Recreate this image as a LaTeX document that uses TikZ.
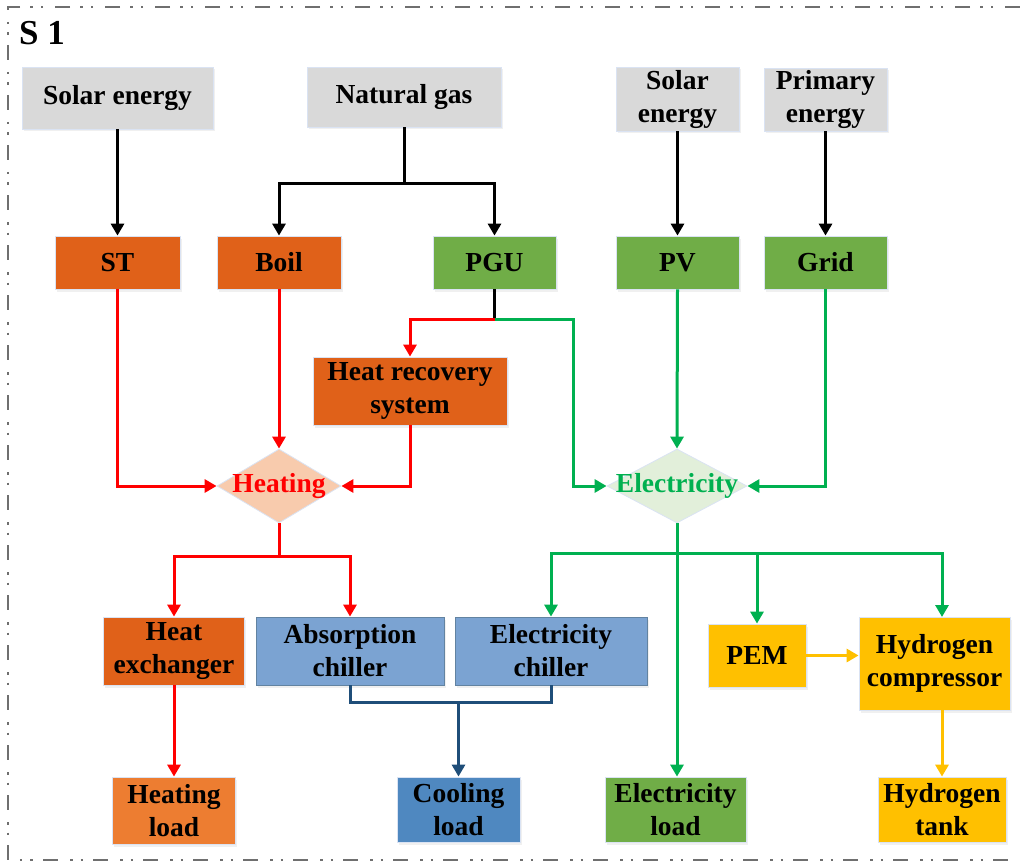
\documentclass[tikz,border=0pt]{standalone}
\usepackage{fontspec}
\setmainfont{Liberation Serif}
\usetikzlibrary{shapes.geometric,arrows.meta,shadows}
\definecolor{gry}{HTML}{D9D9D9}
\definecolor{org}{HTML}{E06119}
\definecolor{hld}{HTML}{ED7D31}
\definecolor{grn}{HTML}{70AD47}
\definecolor{blu}{HTML}{7BA3D2}
\definecolor{cld}{HTML}{4F88C0}
\definecolor{yel}{HTML}{FFC000}
\definecolor{hdia}{HTML}{F8CBAD}
\definecolor{edia}{HTML}{E2EFDA}
\definecolor{rd}{HTML}{FF0000}
\definecolor{gn}{HTML}{00B050}
\definecolor{nv}{HTML}{1F4E79}
\definecolor{edge}{HTML}{DAE3F3}
\definecolor{frame}{HTML}{6F6F6F}
\begin{document}
\begin{tikzpicture}[x=1pt,y=-1pt,
  box/.style={rectangle, inner sep=0pt, align=center, draw=edge, line width=0.8pt,
    font=\fontsize{27.5}{33}\selectfont\bfseries,
    drop shadow={opacity=0.12, shadow xshift=1.5pt, shadow yshift=-2.5pt}},
  dia/.style={diamond, inner sep=0pt, draw=edge, line width=0.8pt},
  dlbl/.style={inner sep=0pt, font=\fontsize{27.5}{33}\selectfont\bfseries},
  conn/.style={line width=3pt},
  arr/.style={conn, -{Triangle[length=12pt,width=13pt]}},
]
\useasboundingbox (0,0) rectangle (1020,864);
% frame
\draw[frame, line width=2.5pt, dash pattern=on 15pt off 12pt on 2.5pt off 8pt on 2.5pt off 10pt]
  (1020,7) -- (8,7) -- (8,860) -- (1020,860);
\node[anchor=north west, inner sep=0pt, font=\fontsize{35}{35}\selectfont\bfseries] (title) at (19,21) {S 1};

% sources
\node[box, fill=gry, minimum width=191pt, minimum height=62pt] (se1) at (117.5,98) {Solar energy};
\node[box, fill=gry, minimum width=194pt, minimum height=60pt] (ng) at (404,97) {Natural gas};
\node[box, fill=gry, minimum width=123pt, minimum height=64pt] (se2) at (677.5,99) {Solar\\energy};
\node[box, fill=gry, minimum width=123pt, minimum height=63pt] (pe) at (825.5,99.5) {Primary\\energy};

% converters
\node[box, fill=org, minimum width=125pt, minimum height=53pt] (st) at (117.5,262.5) {ST};
\node[box, fill=org, minimum width=124pt, minimum height=53pt] (boil) at (279,262.5) {Boil};
\node[box, fill=grn, minimum width=123pt, minimum height=53pt] (pgu) at (494.5,262.5) {PGU};
\node[box, fill=grn, minimum width=123pt, minimum height=53pt] (pv) at (677.5,262.5) {PV};
\node[box, fill=grn, minimum width=123pt, minimum height=53pt] (grid) at (825.5,262.5) {Grid};
\node[box, fill=org, minimum width=194pt, minimum height=68pt] (hrs) at (410,391) {Heat recovery\\system};

% hubs
\node[dia, fill=hdia, minimum width=124pt, minimum height=74pt] (heat) at (279,486) {};
\node[dlbl, text=rd] (heatl) at (heat.center) {Heating};
\node[dia, fill=edia, minimum width=140pt, minimum height=74pt] (elec) at (677,486) {};
\node[dlbl, text=gn] (elecl) at (elec.center) {Electricity};

% second level
\node[box, fill=org, minimum width=141pt, minimum height=68pt] (hx) at (174,651) {Heat\\exchanger};
\node[box, fill=blu, draw=nv!70, minimum width=188pt, minimum height=68pt] (ac) at (350,651) {Absorption\\chiller};
\node[box, fill=blu, draw=nv!70, minimum width=192pt, minimum height=68pt] (ec) at (551,651) {Electricity\\chiller};
\node[box, fill=yel, minimum width=98pt, minimum height=63pt] (pem) at (757,655.5) {PEM};
\node[box, fill=yel, minimum width=151pt, minimum height=93pt] (hc) at (934.5,663.5) {Hydrogen\\compressor};

% loads
\node[box, fill=hld, minimum width=123pt, minimum height=67pt] (hl) at (174,810.5) {Heating\\load};
\node[box, fill=cld, minimum width=123pt, minimum height=65pt] (cl) at (458.5,809.5) {Cooling\\load};
\node[box, fill=grn, minimum width=141pt, minimum height=65pt] (el) at (675.5,809.5) {Electricity\\load};
\node[box, fill=yel, minimum width=128pt, minimum height=65pt] (ht) at (942,809.5) {Hydrogen\\tank};

% junction coordinates
\coordinate (ngj) at (404,183);
\coordinate (pgj) at (494.5,319);
\coordinate (hj) at (279,556);
\coordinate (ej) at (677,553);
\coordinate (cj) at (458.5,702);

% black
\draw[arr] (se1.south) -- (st.north);
\draw[conn] (ng.south) -- (ngj);
\draw[arr] (ngj) -| (boil.north);
\draw[arr] (ngj) -| (pgu.north);
\draw[arr] (se2.south) -- (pv.north);
\draw[arr] (pe.south) -- (grid.north);
\draw[conn] (pgu.south) -- (pgj);

% red
\draw[arr, rd] (st.south) |- (heat.west);
\draw[arr, rd] (boil.south) -- (heat.north);
\draw[arr, rd] (pgj) -| (hrs.north);
\draw[arr, rd] (hrs.south) |- (heat.east);
\draw[conn, rd] (heat.south) -- (hj);
\draw[arr, rd] (hj) -| (hx.north);
\draw[arr, rd] (hj) -| (ac.north);
\draw[arr, rd] (hx.south) -- (hl.north);

% green
\draw[arr, gn] (pgj) -| (573,486) -- (elec.west);
\draw[arr, gn] (pv.south) -- (elec.north);
\draw[arr, gn] (grid.south) |- (elec.east);
\draw[arr, gn] (elec.south) -- (el.north -| elec.south);
\draw[arr, gn] (ej) -| (ec.north);
\draw[arr, gn] (ej) -| (pem.north);
\draw[arr, gn] (ej) -| (942,617);

% navy
\draw[conn, nv] (ac.south) |- (cj) -| (ec.south);
\draw[arr, nv] (cj) -- (cl.north);

% yellow
\draw[arr, yel] (pem.east) -- (hc.west |- pem.east);
\draw[arr, yel] (942,710) -- (ht.north);
\end{tikzpicture}
\end{document}
